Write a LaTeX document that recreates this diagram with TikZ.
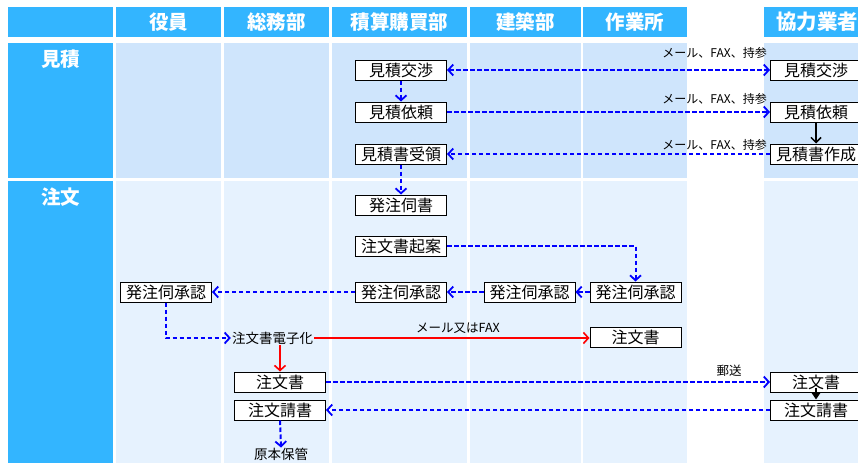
\documentclass[tikz,border=0pt]{standalone}
\usepackage{fontspec}
\setmainfont{Noto Sans CJK JP}
\usetikzlibrary{arrows.meta}
\definecolor{headblue}{RGB}{51,181,255}
\definecolor{rowa}{RGB}{207,229,252}
\definecolor{rowb}{RGB}{230,242,254}
\definecolor{flowblue}{RGB}{0,0,255}
\definecolor{flowred}{RGB}{255,0,0}
\tikzset{
  hd/.style={text=white,font=\fontsize{19.5}{19.5}\selectfont\bfseries,inner sep=0pt},
  bx/.style={draw=black,fill=white,line width=1pt,minimum width=91pt,minimum height=20pt,inner sep=0pt,font=\fontsize{16}{16}\selectfont},
  lbl/.style={inner sep=0pt,font=\fontsize{12}{12}\selectfont},
  txt/.style={inner sep=0pt,font=\fontsize{13.5}{13.5}\selectfont},
  bflow/.style={draw=flowblue,line width=2pt,dash pattern=on 4.5pt off 2.5pt,-{Straight Barb[length=5pt,width=11pt,line width=1.8pt]}},
  bflowb/.style={bflow,{Straight Barb[length=5pt,width=11pt,line width=1.8pt]}-{Straight Barb[length=5pt,width=11pt,line width=1.8pt]}},
  rflow/.style={draw=flowred,line width=1.8pt,-{Straight Barb[length=5pt,width=11pt,line width=1.6pt]}},
  kflow/.style={draw=black,line width=1.6pt,-{Straight Barb[length=5pt,width=10pt,line width=1.5pt]}},
  kflowt/.style={draw=black,line width=1.4pt,-{Triangle[length=7pt,width=9pt]}}
}
\begin{document}
\begin{tikzpicture}[x=1pt,y=-1pt]
\clip (0,0) rectangle (858,463);
\fill[white] (0,0) rectangle (858,463);
% header row
\fill[headblue] (8,7) rectangle (113,37);
\fill[headblue] (116,7) rectangle (221,37);
\fill[headblue] (224,7) rectangle (329,37);
\fill[headblue] (332,7) rectangle (467,37);
\fill[headblue] (470,7) rectangle (581,37);
\fill[headblue] (583,7) rectangle (687,37);
\fill[headblue] (764,7) rectangle (870,37);
% row 見積
\fill[headblue] (8,43) rectangle (113,178);
\foreach \a/\b in {116/221,224/329,332/467,470/581,583/687,764/870}
  \fill[rowa] (\a,43) rectangle (\b,178);
% row 注文
\fill[headblue] (8,181) rectangle (113,463);
\foreach \a/\b in {116/221,224/329,332/467,470/581,583/687,764/870}
  \fill[rowb] (\a,181) rectangle (\b,463);
% header texts
\node[hd] (h1) at (168.5,22) {役員};
\node[hd] (h2) at (276.5,22) {総務部};
\node[hd] (h3) at (399.5,22) {積算購買部};
\node[hd] (h4) at (525.5,22) {建築部};
\node[hd] (h5) at (635,22) {作業所};
\node[hd,anchor=west,font=\fontsize{20.5}{20.5}\selectfont\bfseries] (h6) at (776,22) {協力業者};
\node[hd] (r1) at (60.5,59) {見積};
\node[hd] (r2) at (60.5,197) {注文};
% boxes 見積
\node[bx] (mk1) at (401,70) {見積交渉};
\node[bx] (mi1) at (401,112) {見積依頼};
\node[bx] (mj1) at (401,154) {見積書受領};
\node[bx] (mk2) at (816,70) {見積交渉};
\node[bx] (mi2) at (816,112) {見積依頼};
\node[bx] (ms2) at (816,154) {見積書作成};
% boxes 注文
\node[bx] (ha) at (401,205) {発注伺書};
\node[bx] (ka) at (401,246) {注文書起案};
\node[bx] (s1) at (401,292) {発注伺承認};
\node[bx] (s0) at (166,292) {発注伺承認};
\node[bx] (s2) at (529.5,292) {発注伺承認};
\node[bx] (s3) at (635.5,292) {発注伺承認};
\node[txt,inner sep=1pt] (den) at (272.5,338) {注文書電子化};
\node[bx] (cs3) at (635.5,337) {注文書};
\node[bx] (cs1) at (280,382) {注文書};
\node[bx] (uk1) at (280,410) {注文請書};
\node[txt] (gen) at (281,454) {原本保管};
\node[bx] (cs2) at (816,382) {注文書};
\node[bx] (uk2) at (816,410) {注文請書};
% labels
\node[lbl,anchor=east] (l1) at (767,53) {メール、FAX、持参};
\node[lbl,anchor=east] (l2) at (767,99) {メール、FAX、持参};
\node[lbl,anchor=east] (l3) at (767,145) {メール、FAX、持参};
\node[lbl,font=\fontsize{12.5}{12.5}\selectfont] (l4) at (458,328) {メール又はFAX};
\node[lbl,font=\fontsize{12.5}{12.5}\selectfont] (l5) at (729,371) {郵送};
% connectors
\draw[bflowb] (mk1) -- (mk2);
\draw[bflow] (mi1) -- (mi2);
\draw[bflow] (ms2) -- (mj1);
\draw[bflow] (mk1.south) -- (mi1.north);
\draw[bflow] (mj1.south) -- (ha.north);
\draw[kflow] (mi2) -- (ms2);
\draw[bflow] (ka.east) -| (s3.north);
\draw[bflow] (s3) -- (s2);
\draw[bflow] (s2) -- (s1);
\draw[bflow] (s1) -- (s0);
\draw[bflow] (s0.south) |- (den.west);
\draw[rflow] (den.east) -- (cs3.west |- den.east);
\draw[rflow] (den.south -| cs1.north) -- (cs1.north);
\draw[bflow] (cs1) -- (cs2);
\draw[bflow] (uk2) -- (uk1);
\draw[kflowt] ([yshift=5pt]cs2.south) -- (uk2.north);
\draw[bflow] (uk1.south) -- (gen.north);
\end{tikzpicture}
\end{document}
